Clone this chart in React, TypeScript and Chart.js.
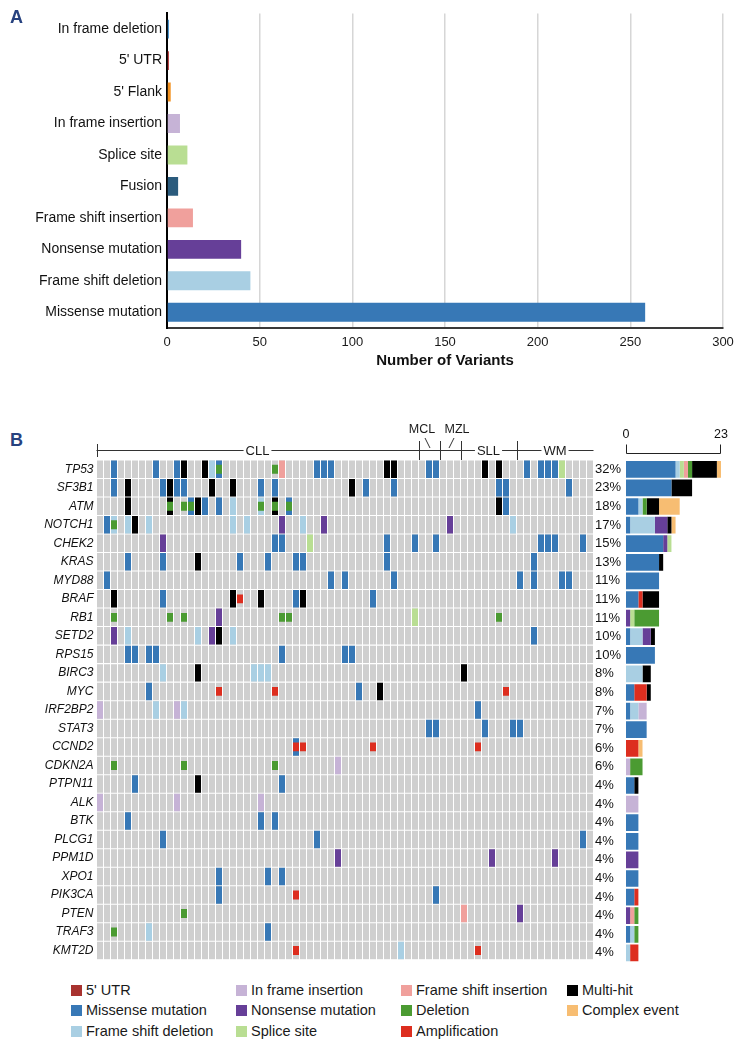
import React, { useEffect, useRef } from 'react';
import { Chart, registerables } from 'chart.js';

Chart.register(...registerables);

const FONT = '"Liberation Sans", Arial, Helvetica, sans-serif';
const PANEL_BLUE = '#27427f';
const GRID_GREY = '#cfcfcf';

// ---------------- Panel A data ----------------
const variantTypes = [
  'In frame deletion', "5' UTR", "5' Flank", 'In frame insertion', 'Splice site',
  'Fusion', 'Frame shift insertion', 'Nonsense mutation', 'Frame shift deletion', 'Missense mutation',
];
const variantCounts = [1, 1, 2, 7, 11, 6, 14, 40, 45, 258];
const variantColors = [
  '#2f86c9', '#b22a2a', '#f39220', '#c6b3d6', '#b9de93',
  '#2b5b7d', '#f0a09c', '#663f98', '#a9cfe3', '#3778b6',
];
const variantAxisMax = 300;
const variantAxisStep = 50;

// ---------------- Panel B data ----------------
const genes = [
  'TP53', 'SF3B1', 'ATM', 'NOTCH1', 'CHEK2', 'KRAS', 'MYD88', 'BRAF', 'RB1', 'SETD2',
  'RPS15', 'BIRC3', 'MYC', 'IRF2BP2', 'STAT3', 'CCND2', 'CDKN2A', 'PTPN11', 'ALK', 'BTK',
  'PLCG1', 'PPM1D', 'XPO1', 'PIK3CA', 'PTEN', 'TRAF3', 'KMT2D',
];
const genePercents = [
  '32%', '23%', '18%', '17%', '15%', '13%', '11%', '11%', '11%', '10%',
  '10%', '8%', '8%', '7%', '7%', '6%', '6%', '4%', '4%', '4%',
  '4%', '4%', '4%', '4%', '4%', '4%', '4%',
];
const subtypeNames = ['CLL', 'MCL', 'MZL', 'SLL', 'WM'];
const subtypeSampleCounts = [46, 3, 3, 8, 11];
const sideAxisMax = 23;

// alteration type codes, in legend (column-major) / stacking order
const typeCodes = ['U', 'M', 'FD', 'II', 'N', 'S', 'FI', 'D', 'A', 'K', 'C'];
const typeNames = [
  "5' UTR", 'Missense mutation', 'Frame shift deletion', 'In frame insertion', 'Nonsense mutation',
  'Splice site', 'Frame shift insertion', 'Deletion', 'Amplification', 'Multi-hit', 'Complex event',
];
const typeColors = [
  '#a8322f', '#3778b6', '#a9cfe3', '#c6b3d6', '#663f98',
  '#b9de93', '#f0a09c', '#4b9b32', '#dd2e1f', '#000000', '#f7bd72',
];

// per-gene alterations: [sample column, type] ('X+Y' = two alterations -> complex event)
const mutTP53 = [[2, 'M'], [8, 'M'], [11, 'M'], [12, 'K'], [15, 'K'], [16, 'FD'], [17, 'M+D'], [25, 'D'], [26, 'FI'], [31, 'M'], [32, 'M'], [33, 'M'], [41, 'K'], [42, 'K'], [47, 'M'], [48, 'M'], [55, 'K'], [57, 'K'], [61, 'M'], [63, 'M'], [64, 'M'], [65, 'M'], [66, 'S']];
const mutSF3B1 = [[2, 'M'], [4, 'K'], [9, 'M'], [10, 'K'], [11, 'M'], [12, 'M'], [16, 'K'], [19, 'K'], [23, 'M'], [25, 'M'], [36, 'K'], [38, 'M'], [42, 'M'], [57, 'M'], [58, 'M'], [67, 'M']];
const mutATM = [[4, 'K'], [10, 'K+D'], [12, 'D'], [13, 'M+D'], [14, 'K'], [15, 'M'], [17, 'M'], [19, 'FD'], [23, 'FD+D'], [25, 'K+D'], [27, 'M+D'], [57, 'K'], [58, 'M']];
const mutNOTCH1 = [[1, 'M'], [2, 'FD+D'], [4, 'FD'], [5, 'K'], [7, 'FD'], [19, 'FD'], [21, 'FD'], [26, 'N'], [29, 'FD'], [32, 'N'], [50, 'N'], [59, 'FD']];
const mutCHEK2 = [[9, 'N'], [25, 'M'], [26, 'M'], [30, 'S'], [41, 'M'], [45, 'M'], [48, 'M'], [63, 'M'], [64, 'M'], [65, 'M'], [69, 'M']];
const mutKRAS = [[4, 'M'], [9, 'M'], [14, 'K'], [20, 'M'], [24, 'M'], [28, 'M'], [29, 'M'], [41, 'M'], [62, 'M']];
const mutMYD88 = [[1, 'M'], [33, 'M'], [35, 'M'], [42, 'M'], [60, 'M'], [62, 'M'], [66, 'M'], [67, 'M']];
const mutBRAF = [[2, 'K'], [9, 'M'], [19, 'K'], [20, 'A'], [23, 'K'], [28, 'M'], [29, 'K'], [39, 'M']];
const mutRB1 = [[2, 'D'], [10, 'D'], [12, 'D'], [17, 'N'], [26, 'D'], [27, 'D'], [45, 'S'], [57, 'D']];
const mutSETD2 = [[2, 'N'], [4, 'FD'], [14, 'FD'], [16, 'N'], [17, 'K'], [19, 'FD'], [62, 'M']];
const mutRPS15 = [[4, 'M'], [5, 'M'], [7, 'M'], [8, 'M'], [26, 'M'], [35, 'M'], [36, 'M']];
const mutBIRC3 = [[9, 'FD'], [14, 'K'], [22, 'FD'], [23, 'FD'], [24, 'FD'], [52, 'K']];
const mutMYC = [[7, 'M'], [17, 'A'], [25, 'A'], [37, 'M'], [40, 'K'], [58, 'A']];
const mutIRF2BP2 = [[0, 'II'], [8, 'FD'], [11, 'II'], [12, 'FD'], [54, 'M']];
const mutSTAT3 = [[47, 'M'], [48, 'M'], [55, 'M'], [59, 'M'], [60, 'M']];
const mutCCND2 = [[28, 'M+A'], [29, 'A'], [39, 'A'], [54, 'A']];
const mutCDKN2A = [[2, 'D'], [12, 'D'], [25, 'D'], [34, 'II']];
const mutPTPN11 = [[5, 'M'], [14, 'K'], [26, 'M']];
const mutALK = [[0, 'II'], [11, 'II'], [23, 'II']];
const mutBTK = [[4, 'M'], [23, 'M'], [25, 'M']];
const mutPLCG1 = [[9, 'M'], [31, 'M'], [69, 'M']];
const mutPPM1D = [[34, 'N'], [56, 'N'], [65, 'N']];
const mutXPO1 = [[17, 'M'], [24, 'M'], [26, 'M']];
const mutPIK3CA = [[17, 'M'], [28, 'A'], [48, 'M']];
const mutPTEN = [[12, 'D'], [52, 'FI'], [60, 'N']];
const mutTRAF3 = [[2, 'D'], [7, 'FD'], [24, 'M']];
const mutKMT2D = [[28, 'A'], [43, 'FD'], [54, 'A']];

const geneMutations: [number, string][][] = [
  mutTP53, mutSF3B1, mutATM, mutNOTCH1, mutCHEK2, mutKRAS, mutMYD88, mutBRAF, mutRB1, mutSETD2,
  mutRPS15, mutBIRC3, mutMYC, mutIRF2BP2, mutSTAT3, mutCCND2, mutCDKN2A, mutPTPN11, mutALK, mutBTK,
  mutPLCG1, mutPPM1D, mutXPO1, mutPIK3CA, mutPTEN, mutTRAF3, mutKMT2D,
] as any;

const legendColumns = [['U', 'M', 'FD'], ['II', 'N', 'S'], ['FI', 'D', 'A'], ['K', 'C']];

// ---------------- derived tables ----------------
const sampleTotal = subtypeSampleCounts.reduce((a, b) => a + b, 0);
const sampleIds = Array.from({ length: sampleTotal }, (_, i) => 'S' + (i + 1));
const colorOf = (code: string) => typeColors[typeCodes.indexOf(code)];
const cellKind = (code: string) => (code.includes('+') ? 'C' : code);
const sideCounts = typeCodes.map((t) =>
  geneMutations.map((list) => list.filter(([, c]) => cellKind(c) === t).length)
);

function PanelA() {
  const ref = useRef<HTMLCanvasElement>(null);
  useEffect(() => {
    const chart = new Chart(ref.current!, {
      type: 'bar',
      data: {
        labels: variantTypes,
        datasets: [{
          data: variantCounts,
          backgroundColor: variantColors,
          borderWidth: 0,
          barPercentage: 0.6,
          categoryPercentage: 1,
        }],
      },
      options: {
        indexAxis: 'y',
        animation: false,
        responsive: false,
        events: [],
        plugins: { legend: { display: false }, tooltip: { enabled: false } },
        layout: { padding: { top: 11, right: 28, left: 0, bottom: 0 } },
        scales: {
          x: {
            min: 0,
            max: variantAxisMax,
            ticks: { stepSize: variantAxisStep, color: '#1a1a1a', font: { family: FONT, size: 13 }, padding: 7 },
            grid: { color: '#d6d6d6', lineWidth: 1.5, drawTicks: false },
            border: { color: '#3a3a3a', width: 2 },
            title: {
              display: true,
              text: 'Number of Variants',
              color: '#111',
              font: { family: FONT, size: 15, weight: 'bold' },
              padding: { top: 0, bottom: 2 },
            },
            afterFit: (s: any) => { s.height = 44; },
          },
          y: {
            grid: { display: false, drawTicks: false },
            border: { color: '#000', width: 2 },
            ticks: { color: '#111', font: { family: FONT, size: 14 }, padding: 5 },
            afterFit: (s: any) => { s.width = 167; },
          },
        },
      } as any,
    });
    return () => chart.destroy();
  }, []);
  return (
    <canvas ref={ref} width={751} height={372}
      style={{ position: 'absolute', left: 0, top: 0, width: 751, height: 372 }} />
  );
}

const headerPlugin = {
  id: 'subtypeHeader',
  afterDraw(chart: any) {
    const ctx = chart.ctx;
    const xs = chart.scales.x;
    const w = xs.getPixelForValue(1) - xs.getPixelForValue(0);
    const edge = (c: number) => xs.getPixelForValue(0) - w / 2 + c * w;
    const top = chart.chartArea.top;
    const lineY = top - 10;
    const bounds = [0];
    subtypeSampleCounts.forEach((n) => bounds.push(bounds[bounds.length - 1] + n));
    ctx.save();
    ctx.strokeStyle = '#333';
    ctx.lineWidth = 1;
    ctx.beginPath();
    ctx.moveTo(edge(0), lineY + 0.5);
    ctx.lineTo(edge(sampleTotal), lineY + 0.5);
    [0, sampleTotal].forEach((c) => {
      const x = Math.round(edge(c)) + 0.5;
      ctx.moveTo(x, lineY - 6);
      ctx.lineTo(x, lineY + 7);
    });
    bounds.slice(1, -1).forEach((c) => {
      const x = Math.round(edge(c)) + 0.5;
      ctx.moveTo(x, lineY - 9);
      ctx.lineTo(x, top);
    });
    ctx.stroke();
    ctx.font = `13px ${FONT}`;
    ctx.textBaseline = 'middle';
    ctx.textAlign = 'center';
    ctx.fillStyle = '#1a1a1a';
    subtypeNames.forEach((name, i) => {
      const mid = (edge(bounds[i]) + edge(bounds[i + 1])) / 2;
      const span = subtypeSampleCounts[i];
      if (span > 5) {
        const tw = ctx.measureText(name).width;
        ctx.fillStyle = '#fff';
        ctx.fillRect(mid - tw / 2 - 2, lineY - 5, tw + 4, 11);
        ctx.fillStyle = '#1a1a1a';
        ctx.fillText(name, mid, lineY + 1);
      } else {
        const dir = name === 'MCL' ? -1 : 1;
        const lx = mid + dir * 7;
        ctx.font = `12.5px ${FONT}`;
        ctx.fillText(name, lx, lineY - 20);
        ctx.beginPath();
        ctx.moveTo(mid + dir * 4, lineY - 12);
        ctx.lineTo(mid - dir * 1, lineY - 2);
        ctx.stroke();
        ctx.font = `13px ${FONT}`;
      }
    });
    ctx.restore();
  },
};

function OncoPrint() {
  const ref = useRef<HTMLCanvasElement>(null);
  useEffect(() => {
    const gap = 0.028;
    const bgSets = genes.map((g, r) => ({
      label: g + ' bg',
      data: sampleIds.map(() => [r + gap, r + 1 - gap]),
      backgroundColor: GRID_GREY,
      grouped: false,
      barPercentage: 6 / 7,
      categoryPercentage: 1,
      borderWidth: 0,
      order: 3,
    }));
    const fullSets = geneMutations.map((list, r) => {
      const data: any[] = sampleIds.map(() => null);
      const colors: string[] = sampleIds.map(() => 'rgba(0,0,0,0)');
      list.forEach(([c, code]) => {
        const main = code.split('+')[0];
        if (main !== 'D' && main !== 'A') {
          data[c] = [r + gap, r + 1 - gap];
          colors[c] = colorOf(main);
        }
      });
      return {
        label: genes[r] + ' alt', data, backgroundColor: colors, grouped: false,
        barPercentage: 6 / 7, categoryPercentage: 1, borderWidth: 0, order: 2,
      };
    });
    const cnvSets = geneMutations.map((list, r) => {
      const data: any[] = sampleIds.map(() => null);
      const colors: string[] = sampleIds.map(() => 'rgba(0,0,0,0)');
      list.forEach(([c, code]) => {
        const cnv = code.split('+').find((p) => p === 'D' || p === 'A');
        if (cnv) {
          data[c] = [r + 0.26, r + 0.74];
          colors[c] = colorOf(cnv);
        }
      });
      return {
        label: genes[r] + ' cnv', data, backgroundColor: colors, grouped: false,
        barPercentage: 6 / 7, categoryPercentage: 1, borderWidth: 0, order: 1,
      };
    });
    const chart = new Chart(ref.current!, {
      type: 'bar',
      data: { labels: sampleIds, datasets: [...bgSets, ...fullSets, ...cnvSets] as any },
      options: {
        animation: false,
        responsive: false,
        events: [],
        plugins: { legend: { display: false }, tooltip: { enabled: false } },
        layout: { padding: { top: 60, right: 0.5, left: 0, bottom: 5 } },
        scales: {
          x: { type: 'category', display: false, offset: true },
          y: {
            type: 'linear',
            min: 0,
            max: genes.length,
            reverse: true,
            afterBuildTicks: (s: any) => { s.ticks = genes.map((_, i) => ({ value: i + 0.5 })); },
            ticks: {
              autoSkip: false,
              callback: (_v: any, i: number) => genes[i],
              color: '#111',
              font: { family: FONT, size: 12, style: 'italic' },
              padding: 3,
            },
            grid: { display: false, drawTicks: false },
            border: { display: false },
            afterFit: (s: any) => { s.width = 96.5; },
          },
        },
      } as any,
      plugins: [headerPlugin],
    });
    return () => chart.destroy();
  }, []);
  return (
    <canvas ref={ref} width={594} height={570}
      style={{ position: 'absolute', left: 0, top: 400, width: 594, height: 570 }} />
  );
}

const bracketPlugin = {
  id: 'countBracket',
  afterDraw(chart: any) {
    const ctx = chart.ctx;
    const xs = chart.scales.x;
    const y = chart.chartArea.top - 6.5;
    const x0 = Math.round(xs.getPixelForValue(0)) + 0.5;
    const x1 = Math.round(xs.getPixelForValue(sideAxisMax)) - 0.5;
    ctx.save();
    ctx.strokeStyle = '#222';
    ctx.lineWidth = 1;
    ctx.beginPath();
    ctx.moveTo(x0, y - 9);
    ctx.lineTo(x0, y);
    ctx.lineTo(x1, y);
    ctx.lineTo(x1, y - 9);
    ctx.stroke();
    ctx.restore();
  },
};

function SideBars() {
  const ref = useRef<HTMLCanvasElement>(null);
  useEffect(() => {
    const chart = new Chart(ref.current!, {
      type: 'bar',
      data: {
        labels: genes,
        datasets: typeCodes.map((t, k) => ({
          label: typeNames[k],
          data: sideCounts[k],
          backgroundColor: typeColors[k],
          borderWidth: 0,
          barPercentage: 0.9,
          categoryPercentage: 1,
        })),
      },
      options: {
        indexAxis: 'y',
        animation: false,
        responsive: false,
        events: [],
        plugins: { legend: { display: false }, tooltip: { enabled: false } },
        layout: { padding: { top: 10, right: 30, left: 0, bottom: 5 } },
        scales: {
          x: {
            position: 'top',
            stacked: true,
            min: 0,
            max: sideAxisMax,
            afterBuildTicks: (s: any) => { s.ticks = [{ value: 0 }, { value: sideAxisMax }]; },
            ticks: { color: '#111', font: { family: FONT, size: 12.5 }, padding: 18, maxRotation: 0 },
            grid: { display: false, drawTicks: false },
            border: { display: false },
            afterFit: (s: any) => { s.height = 50; },
          },
          y: {
            stacked: true,
            ticks: {
              autoSkip: false,
              callback: (_v: any, i: number) => genePercents[i],
              color: '#111',
              font: { family: FONT, size: 13 },
              crossAlign: 'far',
              padding: 0,
            },
            grid: { display: false, drawTicks: false },
            border: { display: false },
            afterFit: (s: any) => { s.width = 31; },
          },
        },
      } as any,
      plugins: [bracketPlugin],
    });
    return () => chart.destroy();
  }, []);
  return (
    <canvas ref={ref} width={156} height={570}
      style={{ position: 'absolute', left: 595, top: 400, width: 156, height: 570 }} />
  );
}

function Legend() {
  const colX = [71, 236, 401, 567];
  const rowY = [990, 1010, 1031];
  return (
    <>
      {legendColumns.map((col, ci) =>
        col.map((code, ri) => {
          const k = typeCodes.indexOf(code);
          return (
            <div key={code} style={{
              position: 'absolute', left: colX[ci], top: rowY[ri] - 9, height: 18,
              display: 'flex', alignItems: 'center', whiteSpace: 'nowrap',
              font: `14.5px ${FONT}`, color: '#1a1a1a',
            }}>
              <span style={{ display: 'inline-block', width: 11, height: 11, background: typeColors[k], marginRight: 4 }} />
              {typeNames[k]}
            </div>
          );
        })
      )}
    </>
  );
}

export default function App() {
  return (
    <div style={{ position: 'absolute', left: 0, top: 0, width: 751, height: 1045, background: '#fff', overflow: 'hidden' }}>
      <PanelA />
      <div style={{ position: 'absolute', left: 10, top: 7, font: `bold 18px ${FONT}`, color: PANEL_BLUE }}>A</div>
      <div style={{ position: 'absolute', left: 10, top: 430, font: `bold 18px ${FONT}`, color: PANEL_BLUE }}>B</div>
      <OncoPrint />
      <SideBars />
      <Legend />
    </div>
  );
}
